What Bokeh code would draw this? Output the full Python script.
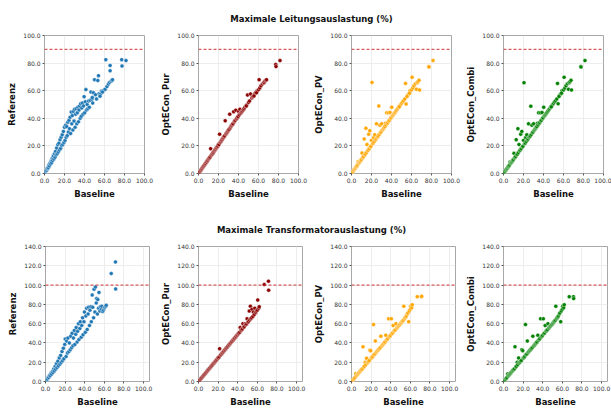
from bokeh.plotting import figure
from bokeh.layouts import column, row
from bokeh.models import Range1d, Span, FixedTicker, NumeralTickFormatter
from bokeh.embed import file_html
from bokeh.resources import INLINE
from bokeh.core.properties import value

# ---------------- data ----------------
TITLE_LINES = "Maximale Leitungsauslastung (%)"
TITLE_TRAFO = "Maximale Transformatorauslastung (%)"
SCENARIOS = ["Referenz", "OptECon_Pur", "OptECon_PV", "OptECon_Combi"]
COLORS = ["#1f77b4", "#8b0000", "#ffa500", "#008000"]
X_LABEL = "Baseline"
X_TICKS = [0, 20, 40, 60, 80, 100]
Y_TICKS_LINES = [0, 20, 40, 60, 80, 100]
Y_TICKS_TRAFO = [0, 20, 40, 60, 80, 100, 120, 140]
LIMIT_LINES = 90
LIMIT_TRAFO = 100

lines_baseline = [
    0.4, 0.9, 1.5, 2.1, 2.6, 3.2, 3.8, 4.3, 4.9, 5.4,
    6.0, 6.6, 7.1, 7.7, 8.2, 8.8, 9.4, 9.9, 10.5, 11.0,
    11.6, 12.1, 12.7, 13.3, 13.8, 14.4, 14.9, 15.5, 16.1, 16.6,
    17.2, 17.7, 18.3, 18.9, 19.4, 20.0, 20.5, 21.1, 21.7, 22.2,
    22.8, 23.3, 23.9, 24.5, 25.0, 25.6, 26.1, 26.7, 27.3, 27.8,
    28.4, 28.9, 29.5, 30.1, 30.6, 31.2, 31.7, 32.3, 32.9, 33.4,
    34.0, 34.5, 35.1, 35.7, 36.2, 36.8, 37.3, 37.9, 38.5, 39.0,
    39.6, 40.2, 40.8, 41.4, 42.0, 42.7, 43.3, 44.0, 44.8, 45.6,
    46.4, 47.3, 48.2, 49.0, 50.0, 51.0, 52.0, 53.3, 54.0, 54.6,
    56.0, 57.0, 58.5, 60.0, 60.6, 61.3, 62.5, 63.9, 65.0, 65.6,
    65.6, 66.5, 67.5, 68.0, 77.2, 77.5, 81.5, 55.5, 58.0, 47.8,
]
lines_referenz = [
    0.5, 1.2, 2.2, 2.4, 3.5, 4.1, 4.2, 5.9, 5.5, 7.4,
    6.8, 9.0, 7.8, 10.8, 9.4, 12.6, 10.5, 14.2, 11.8, 16.0,
    13.4, 18.5, 14.3, 20.8, 15.6, 22.0, 17.0, 24.5, 18.2, 26.3,
    20.3, 28.0, 21.0, 30.5, 22.5, 33.5, 24.0, 35.0, 26.2, 34.0,
    27.5, 37.2, 30.0, 38.5, 32.5, 40.8, 29.0, 44.5, 36.0, 42.0,
    31.5, 45.0, 38.0, 46.5, 33.5, 43.0, 47.0, 36.0, 44.0, 48.0,
    37.5, 46.0, 49.0, 40.0, 50.5, 41.5, 47.5, 51.0, 43.0, 49.0,
    55.7, 44.0, 52.0, 60.8, 46.0, 50.0, 47.0, 52.5, 48.0, 53.0,
    59.0, 53.8, 51.0, 58.5, 68.0, 57.1, 54.0, 67.4, 70.9, 57.8,
    57.5, 59.7, 60.0, 60.6, 61.0, 82.5, 63.0, 64.8, 66.0, 78.3,
    74.4, 66.8, 67.4, 68.0, 82.5, 77.9, 81.8, 56.0, 59.0, 55.0,
]
lines_pur = [
    0.4, 0.9, 1.6, 2.1, 2.8, 3.3, 3.9, 4.5, 5.0, 5.6,
    6.2, 6.9, 7.3, 8.1, 8.4, 9.2, 9.6, 10.4, 10.8, 11.5,
    12.0, 18.0, 13.0, 13.7, 14.2, 14.8, 15.3, 16.0, 16.6, 17.2,
    17.8, 18.4, 18.8, 19.5, 20.0, 21.2, 21.0, 28.5, 22.5, 23.0,
    23.6, 24.3, 24.8, 25.5, 26.0, 26.8, 27.2, 38.2, 28.5, 29.0,
    29.5, 30.2, 30.8, 31.5, 32.0, 43.0, 33.0, 33.8, 34.5, 35.0,
    35.6, 36.0, 44.8, 37.3, 38.0, 38.5, 45.9, 39.5, 40.0, 40.8,
    41.3, 45.0, 42.5, 46.6, 43.5, 44.2, 44.8, 45.5, 46.2, 47.0,
    48.0, 48.8, 49.6, 56.9, 51.5, 52.5, 57.6, 54.8, 55.5, 56.0,
    57.5, 58.5, 59.8, 60.6, 68.0, 62.0, 63.5, 64.8, 65.5, 66.2,
    66.0, 67.0, 67.6, 68.0, 79.0, 77.5, 81.8, 56.2, 58.5, 49.0,
]
lines_pv = [
    0.4, 1.0, 1.5, 2.3, 2.7, 3.4, 3.8, 4.6, 5.0, 5.5,
    6.1, 8.5, 7.2, 7.9, 8.3, 9.0, 9.5, 10.1, 14.8, 11.2,
    11.8, 12.3, 25.0, 13.6, 14.0, 32.8, 15.2, 21.0, 16.4, 17.0,
    28.5, 18.0, 31.0, 19.2, 19.8, 24.0, 66.0, 21.5, 22.1, 26.0,
    23.2, 28.0, 24.3, 25.0, 36.0, 26.2, 26.6, 27.2, 49.0, 28.3,
    35.0, 29.5, 30.0, 36.0, 31.2, 31.8, 32.3, 33.0, 33.5, 34.0,
    36.5, 35.2, 44.0, 36.3, 37.0, 44.0, 38.0, 38.6, 44.2, 39.8,
    40.4, 48.0, 41.6, 42.2, 42.8, 43.5, 44.1, 44.8, 45.6, 46.4,
    47.2, 48.1, 49.0, 49.8, 50.8, 51.8, 52.8, 54.0, 65.3, 50.3,
    56.5, 57.5, 60.0, 60.5, 69.7, 62.0, 63.5, 65.0, 61.0, 65.8,
    66.0, 66.5, 67.5, 60.5, 77.5, 77.2, 81.8, 55.8, 58.2, 48.3,
]
lines_combi = [
    0.4, 1.0, 1.5, 2.3, 2.7, 3.4, 3.8, 4.6, 5.0, 5.5,
    6.1, 8.3, 7.2, 7.9, 8.3, 9.0, 9.5, 10.1, 14.6, 11.2,
    11.8, 12.3, 24.5, 13.6, 14.0, 32.5, 15.2, 21.0, 16.4, 17.0,
    28.5, 18.0, 30.5, 19.2, 19.8, 24.0, 65.8, 21.5, 22.1, 26.0,
    23.2, 28.0, 24.3, 25.0, 36.0, 26.2, 26.6, 27.2, 48.8, 28.3,
    35.0, 29.5, 30.0, 36.0, 31.2, 31.8, 32.3, 33.0, 33.5, 34.0,
    36.5, 35.2, 44.0, 36.3, 37.0, 44.0, 38.0, 38.6, 44.2, 39.8,
    40.4, 48.0, 41.6, 42.2, 42.8, 43.5, 44.1, 44.8, 45.6, 46.4,
    47.2, 48.1, 49.0, 49.8, 50.8, 51.8, 52.8, 54.0, 65.3, 50.5,
    56.5, 57.5, 60.0, 60.5, 69.7, 62.0, 63.5, 65.0, 61.0, 65.8,
    66.0, 66.5, 67.5, 60.5, 77.5, 77.2, 81.8, 55.8, 58.2, 48.3,
]

trafo_baseline = [
    0.5, 1.3, 1.9, 2.8, 3.3, 4.2, 4.7, 5.6, 6.1, 7.0,
    7.5, 8.4, 8.9, 9.8, 10.3, 11.2, 11.7, 12.6, 13.1, 14.0,
    14.5, 15.4, 15.9, 16.8, 17.3, 18.2, 18.7, 19.6, 20.1, 21.0,
    21.5, 22.4, 22.9, 23.8, 24.3, 25.2, 25.7, 26.6, 27.1, 28.0,
    28.5, 29.4, 29.9, 30.8, 31.3, 32.2, 32.7, 33.6, 34.1, 35.0,
    35.5, 36.4, 36.9, 37.8, 38.3, 39.2, 39.7, 40.6, 41.1, 42.0,
    42.5, 43.4, 43.9, 44.8, 45.3, 46.2, 46.7, 47.6, 48.1, 49.0,
    49.5, 50.4, 50.9, 51.7, 52.1, 52.9, 53.3, 54.1, 54.5, 55.4,
    55.9, 56.9, 57.4, 58.3, 58.9, 59.9, 60.4, 61.3, 61.9, 67.0,
    71.3, 71.5,
]
trafo_referenz = [
    0.6, 2.0, 2.6, 4.5, 4.2, 6.5, 6.0, 8.6, 7.6, 10.5,
    9.3, 13.0, 11.0, 15.5, 12.8, 18.5, 14.5, 21.0, 16.2, 24.5,
    18.0, 27.0, 19.8, 31.0, 21.5, 34.5, 23.5, 38.5, 44.0, 26.0,
    42.0, 29.5, 45.0, 31.0, 40.0, 33.0, 47.0, 35.0, 50.0, 37.0,
    45.0, 53.0, 38.5, 49.0, 56.0, 41.0, 52.0, 60.0, 43.5, 55.0,
    62.0, 46.0, 58.0, 66.0, 48.5, 62.0, 72.0, 51.0, 68.0, 76.0,
    54.0, 70.0, 77.0, 58.0, 74.0, 77.5, 62.0, 89.7, 77.0, 66.0,
    95.7, 72.0, 98.0, 81.5, 86.0, 70.0, 85.0, 76.0, 92.4, 73.0,
    77.5, 75.0, 78.0, 72.5, 74.0, 76.0, 77.0, 78.0, 79.0, 112.0,
    124.0, 96.0,
]
trafo_pur = [
    0.6, 1.4, 2.4, 3.3, 4.1, 5.0, 5.8, 6.7, 7.5, 8.4,
    9.2, 10.1, 10.9, 11.8, 12.6, 13.5, 14.3, 15.2, 16.0, 16.9,
    17.8, 18.6, 19.5, 20.3, 21.2, 22.0, 22.9, 23.8, 24.6, 25.5,
    34.0, 27.2, 28.0, 28.9, 29.8, 30.6, 31.5, 32.3, 33.2, 34.0,
    34.9, 35.7, 36.6, 37.5, 38.3, 39.2, 40.0, 40.9, 41.7, 42.6,
    43.4, 44.3, 45.1, 46.0, 46.8, 47.7, 48.6, 49.4, 50.3, 51.1,
    56.0, 52.8, 53.7, 54.5, 60.0, 56.2, 57.1, 60.0, 58.8, 59.7,
    65.0, 61.4, 62.2, 73.0, 63.7, 78.0, 65.0, 66.0, 75.0, 67.5,
    72.0, 69.5, 76.0, 71.5, 73.0, 74.0, 84.4, 76.0, 77.5, 100.5,
    104.0, 94.7,
]
trafo_pv = [
    0.6, 1.4, 2.3, 3.2, 4.0, 8.0, 5.7, 6.6, 7.4, 8.2,
    9.0, 10.0, 10.8, 11.6, 12.4, 13.2, 36.0, 15.0, 15.8, 20.0,
    17.5, 24.0, 19.2, 20.0, 21.0, 21.8, 32.5, 32.0, 24.3, 25.0,
    26.0, 59.0, 27.7, 28.5, 42.0, 30.2, 31.0, 31.8, 32.6, 33.5,
    34.3, 35.2, 47.0, 36.8, 37.7, 38.5, 39.4, 40.2, 41.0, 48.0,
    42.7, 43.6, 44.4, 65.0, 46.1, 47.0, 47.8, 65.0, 49.4, 50.3,
    58.0, 52.0, 52.8, 53.6, 60.0, 55.3, 56.2, 57.0, 57.8, 58.7,
    59.5, 60.4, 61.2, 62.0, 63.0, 63.5, 78.0, 65.0, 66.0, 67.0,
    68.0, 70.0, 71.0, 62.0, 73.0, 75.0, 78.0, 76.5, 79.5, 88.0,
    88.0, 88.3,
]
trafo_combi = [
    0.6, 1.4, 2.3, 3.2, 4.0, 7.8, 5.7, 6.6, 7.4, 8.2,
    9.0, 10.0, 10.8, 11.6, 12.4, 13.2, 36.0, 15.0, 15.8, 20.0,
    17.5, 24.5, 19.2, 20.0, 21.0, 21.8, 33.0, 32.0, 24.3, 25.0,
    26.0, 59.0, 27.7, 28.5, 42.0, 30.2, 31.0, 31.8, 32.6, 33.5,
    34.3, 35.2, 47.0, 36.8, 37.7, 38.5, 39.4, 40.2, 41.0, 48.0,
    42.7, 43.6, 44.4, 65.0, 46.1, 47.0, 47.8, 65.0, 49.4, 50.3,
    58.0, 52.0, 52.8, 53.6, 60.0, 55.3, 56.2, 57.0, 57.8, 58.7,
    59.5, 60.4, 61.2, 62.0, 63.0, 63.5, 78.0, 65.0, 66.0, 67.0,
    68.0, 70.0, 71.0, 62.0, 73.0, 75.0, 78.0, 76.5, 79.5, 88.0,
    88.0, 86.0,
]

# ---------------- styling helpers ----------------
FONT = "DejaVu Sans"
TOTAL_W = 611


def make_panel(x, y, color, ylabel, x_max, y_max, y_ticks, limit,
               width, height, left, right, top, bottom):
    p = figure(width=width, height=height,
               x_range=Range1d(0, x_max), y_range=Range1d(0, y_max),
               output_backend="svg", toolbar_location=None,
               min_border_left=left, min_border_right=right,
               min_border_top=top, min_border_bottom=bottom)
    p.background_fill_color = "white"
    p.border_fill_color = "white"
    p.outline_line_color = "#a8a8a8"
    p.outline_line_width = 1
    p.grid.grid_line_color = "#e9e9e9"
    p.grid.grid_line_width = 0.8
    p.add_layout(Span(location=limit, dimension="width", line_color="#cc3333",
                      line_dash="3 2", line_width=1))
    p.scatter(x=x, y=y, marker="circle", size=4.0, fill_color=color,
              line_color="white", line_width=0.4)
    p.xaxis.ticker = FixedTicker(ticks=X_TICKS)
    p.yaxis.ticker = FixedTicker(ticks=y_ticks)
    for ax in (p.xaxis, p.yaxis):
        ax.formatter = NumeralTickFormatter(format="0.0")
        ax.axis_line_color = None
        ax.major_tick_out = 2
        ax.major_tick_in = 0
        ax.minor_tick_line_color = None
        ax.major_tick_line_color = "#555555"
        ax.major_label_standoff = 2
        ax.major_label_text_font = FONT
        ax.major_label_text_font_size = "6px"
        ax.major_label_text_color = "#333333"
        ax.axis_label_standoff = 3
        ax.axis_label_text_font = FONT
        ax.axis_label_text_font_style = "bold"
        ax.axis_label_text_font_size = "8.5px"
        ax.axis_label_text_color = "#111111"
    p.xaxis.axis_label = X_LABEL
    p.yaxis.axis_label = ylabel
    return p


def make_title(text, height, ypos, xpos):
    t = figure(width=TOTAL_W, height=height, x_range=Range1d(0, 1), y_range=Range1d(0, 1),
               output_backend="svg", toolbar_location=None, min_border=0,
               x_axis_type=None, y_axis_type=None)
    t.outline_line_color = None
    t.background_fill_color = "white"
    t.border_fill_color = "white"
    t.text(x=[xpos], y=[ypos], text=[text], text_font=value(FONT),
           text_font_style="bold", text_font_size="8.5px", text_align="center",
           text_baseline="middle", text_color="#111111")
    return t


# top row layout (frames 100 px wide)
top_widths = [154, 154, 153, 150]
top_left = [44, 44, 43, 42]
top_right = [10, 10, 10, 8]
top_h = 173

# bottom row layout (frames 104 px wide)
bot_widths = [153, 153, 153, 152]
bot_left = [45, 45, 45, 44]
bot_right = [4, 4, 4, 4]
bot_h = 170

lines_y = [lines_referenz, lines_pur, lines_pv, lines_combi]
trafo_y = [trafo_referenz, trafo_pur, trafo_pv, trafo_combi]

top_panels = []
for i in range(4):
    top_panels.append(make_panel(lines_baseline, lines_y[i], COLORS[i], SCENARIOS[i],
                                 100, 100, Y_TICKS_LINES, LIMIT_LINES,
                                 top_widths[i], top_h, top_left[i], top_right[i], 7, 24))

bot_panels = []
for i in range(4):
    bot_panels.append(make_panel(trafo_baseline, trafo_y[i], COLORS[i], SCENARIOS[i],
                                 106, 140, Y_TICKS_TRAFO, LIMIT_TRAFO,
                                 bot_widths[i], bot_h, bot_left[i], bot_right[i], 7, 24))

title1 = make_title(TITLE_LINES, 28, 0.357, 0.509)
title2 = make_title(TITLE_TRAFO, 38, 0.263, 0.509)

layout = column(title1, row(*top_panels, spacing=0), title2, row(*bot_panels, spacing=0), spacing=0)

open("out.html", "w").write(file_html(layout, INLINE))
